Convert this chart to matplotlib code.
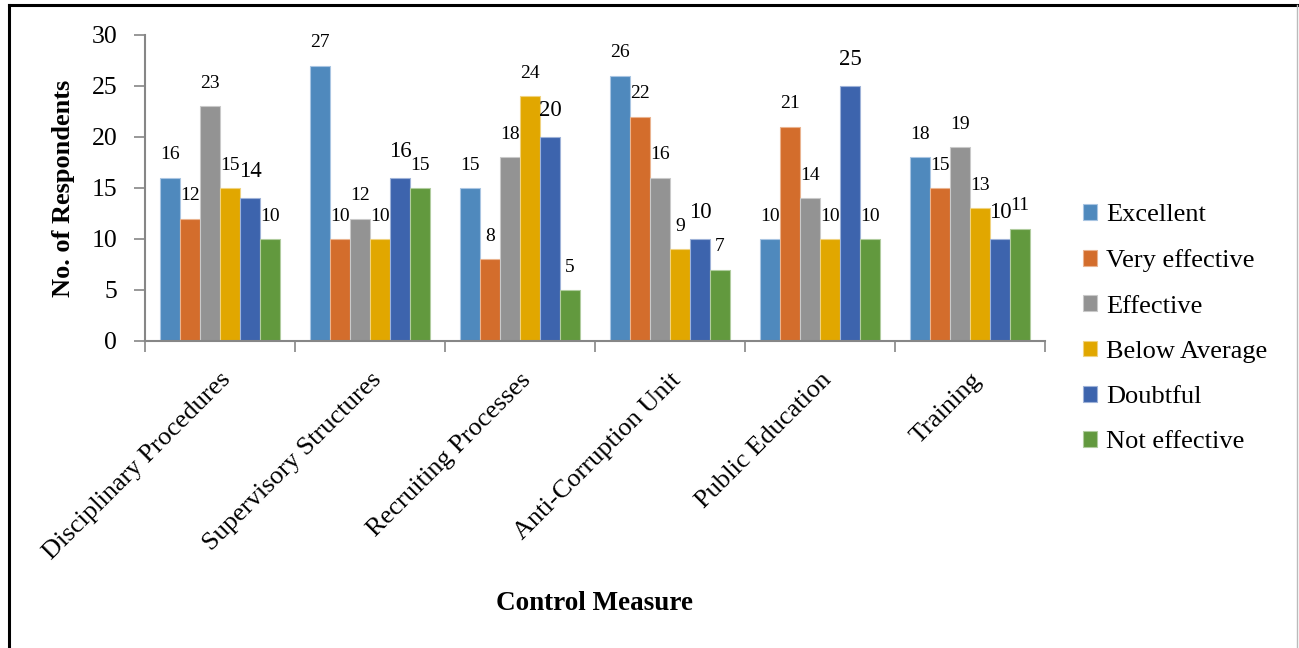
import numpy as np
import matplotlib
matplotlib.use('Agg')
import matplotlib.pyplot as plt
from matplotlib.lines import Line2D

plt.rcParams['font.family'] = ['Liberation Serif', 'DejaVu Serif']

# responses per control measure and rating
categories = ['Disciplinary Procedures', 'Supervisory Structures', 'Recruiting Processes',
              'Anti-Corruption Unit', 'Public Education', 'Training']
ratings = ['Excellent', 'Very effective', 'Effective', 'Below Average', 'Doubtful', 'Not effective']
excellent = [16, 27, 15, 26, 10, 18]
very_effective = [12, 10, 8, 22, 21, 15]
effective = [23, 12, 18, 16, 14, 19]
below_average = [15, 10, 24, 9, 10, 13]
doubtful = [14, 16, 20, 10, 25, 10]
not_effective = [10, 15, 5, 7, 10, 11]

series = [excellent, very_effective, effective, below_average, doubtful, not_effective]
colors = ['#4f89bd', '#d36d2c', '#939393', '#e1a700', '#3d64ad', '#62993e']
edge_colors = ['#a9c5e2', '#eab38f', '#c9c9c9', '#f0d27f', '#9eb2d8', '#b0cc9e']

fig = plt.figure(figsize=(12.99, 6.48), dpi=100)
ax = fig.add_axes([0.1116, 0.4738, 0.6929, 0.4722])

x = np.arange(len(categories))
bw = 0.8 / len(series)
for i, (vals, c, ec, name) in enumerate(zip(series, colors, edge_colors, ratings)):
    pos = x - 0.4 + bw * (i + 0.5)
    ax.bar(pos, vals, width=bw, color=c, edgecolor=ec, linewidth=0.8, label=name)
    big = name == 'Doubtful'
    for px, v in zip(pos, vals):
        ax.annotate(str(v), (px, v), xytext=(0, 19 if big else 16.5),
                    textcoords='offset points', ha='center', va='center',
                    fontsize=16.5 if big else 14)

ax.set_xlim(-0.5, len(categories) - 0.5)
ax.set_ylim(0, 30)
ax.set_yticks(range(0, 31, 5))
# group boundaries carry the tick marks, names sit at the group centres
ax.set_xticks(np.arange(-0.5, len(categories), 1.0))
ax.set_xticklabels([])
ax.set_xticks(x, minor=True)
ax.set_xticklabels(categories, minor=True, rotation=45, ha='right', va='top',
                   rotation_mode='anchor', fontsize=19)
ax.tick_params(axis='x', which='minor', length=0, pad=20)
ax.tick_params(axis='x', which='major', length=8, color='#868686', width=1.2)
ax.tick_params(axis='y', length=8, color='#868686', width=1.2, labelsize=18.5, pad=12)

for side in ['top', 'right']:
    ax.spines[side].set_visible(False)
for side in ['left', 'bottom']:
    ax.spines[side].set_color('#868686')
    ax.spines[side].set_linewidth(1.5)

ax.set_ylabel('No. of Respondents', fontsize=19, fontweight='bold', labelpad=12)
fig.text(0.458, 0.069, 'Control Measure', fontsize=19.5, fontweight='bold', ha='center', va='center')

ax.legend(loc='center left', bbox_to_anchor=(1.03, 0.04), frameon=False, fontsize=19,
          handlelength=0.55, handleheight=0.55, handletextpad=0.35, labelspacing=0.87,
          borderaxespad=0)

# outer frame
fx, fy = 9 / 1299, 1 - 5 / 648
fig.add_artist(Line2D([fx, fx], [0, fy], color='black', linewidth=2.2))
fig.add_artist(Line2D([fx, 1297 / 1299], [fy, fy], color='black', linewidth=2.2))
fig.add_artist(Line2D([1297 / 1299, 1297 / 1299], [0, fy], color='#bbbbbb', linewidth=1))

fig.savefig('out.png', dpi=100)
